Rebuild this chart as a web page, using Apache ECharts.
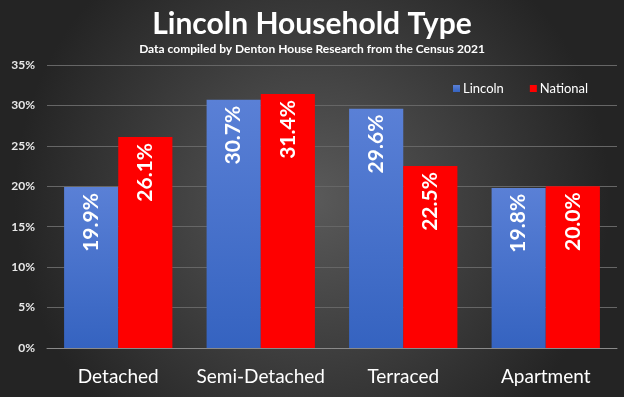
<!DOCTYPE html>
<html><head><meta charset="utf-8">
<script src="https://cdn.jsdelivr.net/npm/echarts@6/dist/echarts.min.js"></script>
<style>html,body{margin:0;padding:0;}#c{width:624px;height:397px;}</style>
</head><body><div id="c"></div>
<script>
const categories = ['Detached', 'Semi-Detached', 'Terraced', 'Apartment'];
const lincoln = [19.9, 30.7, 29.6, 19.8];
const national = [26.1, 31.4, 22.5, 20.0];
const yTicks = [0, 5, 10, 15, 20, 25, 30, 35];

const font = 'Lato';
const chart = echarts.init(document.getElementById('c'));
const labelCfg = {
  show: true, position: 'insideTop', rotate: 90, align: 'right', verticalAlign: 'middle',
  distance: 6, color: '#fff', fontFamily: font, fontWeight: 'bold', fontSize: 21,
  formatter: p => p.value.toFixed(1) + '%'
};
chart.setOption({
  backgroundColor: {
    type: 'radial', x: 0.5, y: 0.5, r: 0.75,
    colorStops: [{offset: 0, color: '#5a5a5a'}, {offset: 1, color: '#242424'}]
  },
  title: {
    text: 'Lincoln Household Type',
    subtext: 'Data compiled by Denton House Research from the Census 2021',
    left: 'center', top: 4, itemGap: 4,
    textStyle: {color: '#fff', fontFamily: font, fontWeight: 'bold', fontSize: 30},
    subtextStyle: {color: '#fff', fontFamily: font, fontWeight: 'bold', fontSize: 12}
  },
  legend: {
    data: ['Lincoln', 'National'], top: 77, left: 448, itemWidth: 7, itemHeight: 7, itemGap: 26,
    icon: 'rect',
    textStyle: {color: '#fff', fontFamily: font, fontSize: 13, padding: [0, 0, 0, -2]}
  },
  grid: {left: 47, right: 7, top: 65, bottom: 49, containLabel: false},
  xAxis: {
    type: 'category', data: categories,
    axisLine: {lineStyle: {color: '#8a8a8a'}}, axisTick: {show: false},
    axisLabel: {color: '#fff', fontFamily: font, fontSize: 19, margin: 19, interval: 0}
  },
  yAxis: {
    type: 'value', min: yTicks[0], max: yTicks[yTicks.length - 1], interval: 5,
    axisLabel: {color: '#e8e8e8', fontFamily: font, fontWeight: 'bold', fontSize: 12, formatter: v => v + '%', margin: 12},
    splitLine: {lineStyle: {color: '#666', width: 1}},
    axisLine: {show: false}, axisTick: {show: false}
  },
  series: [
    {
      name: 'Lincoln', type: 'bar', data: lincoln, barGap: '0%', barCategoryGap: '24%',
      itemStyle: {color: {type: 'linear', x: 0, y: 0, x2: 0, y2: 1,
        colorStops: [{offset: 0, color: '#5a80d6'}, {offset: 1, color: '#3563c0'}]}},
      label: labelCfg
    },
    {
      name: 'National', type: 'bar', data: national,
      itemStyle: {color: '#fe0000'},
      label: labelCfg
    }
  ]
});
</script></body></html>
